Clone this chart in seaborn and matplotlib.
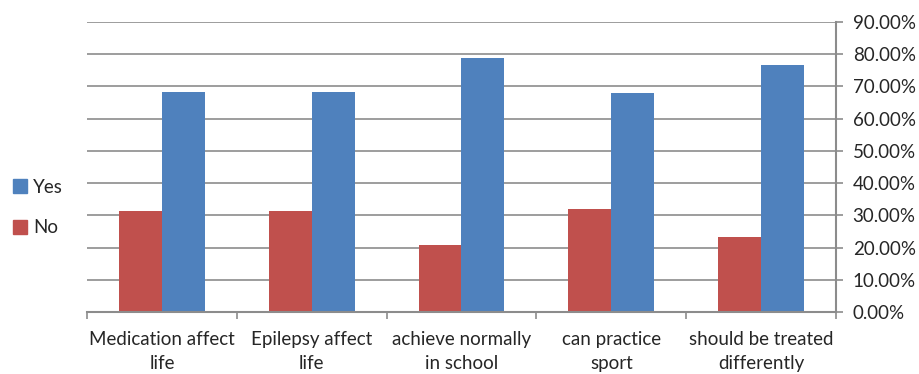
import matplotlib
matplotlib.use("Agg")
import matplotlib.pyplot as plt
import seaborn as sns
import pandas as pd
import numpy as np
from matplotlib.ticker import PercentFormatter
from matplotlib.patches import Patch

# values (percent)
categories = ["Medication affect\nlife", "Epilepsy affect\nlife", "achieve normally\nin school",
              "can practice\nsport", "should be treated\ndifferently"]
no_vals = [31.5, 31.5, 20.8, 31.9, 23.2]
yes_vals = [68.2, 68.2, 78.9, 67.9, 76.6]
yticks = [0, 10, 20, 30, 40, 50, 60, 70, 80, 90]

df = pd.DataFrame({
    "question": categories * 2,
    "answer": ["No"] * len(categories) + ["Yes"] * len(categories),
    "pct": no_vals + yes_vals,
})

sns.set_style("white")
plt.rcParams["font.family"] = ["Lato", "DejaVu Sans"]

colors = {"No": "#C0504D", "Yes": "#4F81BD"}
grid_c = "#8C8C8C"
fs = 13.5

fig = plt.figure(figsize=(9.2, 3.74), dpi=100)
ax = fig.add_axes([87 / 920, 1 - 312 / 374, (836 - 87) / 920, (312 - 22) / 374])

sns.barplot(data=df, x="question", y="pct", hue="answer", hue_order=["No", "Yes"],
            palette=colors, width=0.574, gap=0, saturation=1, ax=ax, legend=False,
            linewidth=0)

ax.set_ylim(0, 90)
ax.set_xlim(-0.5, len(categories) - 0.5)
ax.set_yticks(yticks)
ax.yaxis.set_major_formatter(PercentFormatter(decimals=2))
ax.yaxis.tick_right()
ax.grid(axis="y", color=grid_c, linewidth=1.2)
ax.set_axisbelow(True)

for s in ["top", "left"]:
    ax.spines[s].set_visible(False)
for s in ["right", "bottom"]:
    ax.spines[s].set_color(grid_c)
    ax.spines[s].set_linewidth(1.5)

ax.tick_params(axis="y", which="major", length=5, color=grid_c, width=1.2,
               labelsize=fs, pad=7, right=True, left=False)
ax.set_xticks(np.arange(-0.5, len(categories), 1), minor=True)
ax.tick_params(axis="x", which="major", length=0, labelsize=fs, pad=14)
ax.tick_params(axis="x", which="minor", length=5, color=grid_c, width=1.2, bottom=True)
for lbl in ax.get_xticklabels():
    lbl.set_linespacing(1.5)
ax.set_xlabel("")
ax.set_ylabel("")

handles = [Patch(color=colors["Yes"], label="Yes"), Patch(color=colors["No"], label="No")]
fig.legend(handles=handles, loc="center left", bbox_to_anchor=(-0.004, 0.445),
           frameon=False, fontsize=fs, handlelength=0.75, handleheight=0.75,
           handletextpad=0.3, labelspacing=1.25)

fig.savefig("out.png", dpi=100)
